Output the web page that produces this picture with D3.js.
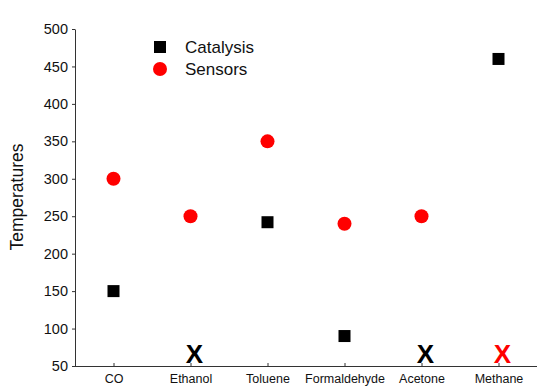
<!DOCTYPE html>
<html>
<head>
<meta charset="utf-8">
<script src="https://d3js.org/d3.v7.min.js"></script>
<style>
  body { margin: 0; background: #fff; }
  text { font-family: "Liberation Sans", Arial, sans-serif; }
</style>
</head>
<body>
<svg id="chart" width="550" height="391"></svg>
<script>
// chart data
const gases = ["CO", "Ethanol", "Toluene", "Formaldehyde", "Acetone", "Methane"];
const catalysis = [150, null, 242, 90, null, 460];
const sensors = [300, 250, 350, 240, 250, null];
const yTicks = [50, 100, 150, 200, 250, 300, 350, 400, 450, 500];

const svg = d3.select("#chart");
const plotLeft = 75, plotRight = 537, plotTop = 29, plotBottom = 366;

const x = d3.scalePoint().domain(gases).range([plotLeft, plotRight]).padding(0.5);
const y = d3.scaleLinear().domain([50, 500]).range([plotBottom, plotTop]);

// y axis
const yAxis = svg.append("g")
  .attr("transform", `translate(${plotLeft},0)`)
  .call(d3.axisLeft(y).tickValues(yTicks).tickSize(3).tickPadding(4).tickSizeOuter(0));
yAxis.selectAll("text").style("font-size", "14.5px").attr("fill", "#111");
yAxis.selectAll("line, path").attr("stroke", "#333");

// x axis, ticks point inward
const xAxis = svg.append("g")
  .attr("transform", `translate(0,${plotBottom})`)
  .call(d3.axisBottom(x).tickSizeInner(-3).tickSizeOuter(0).tickPadding(8));
xAxis.select(".domain").attr("d", `M${plotLeft},0.5H${plotRight}`);
xAxis.selectAll("text").style("font-size", "12.5px").attr("fill", "#111");
xAxis.selectAll("line, path").attr("stroke", "#333");

// y title
svg.append("text")
  .attr("transform", `translate(23,197) rotate(-90)`)
  .attr("text-anchor", "middle")
  .style("font-size", "17.5px")
  .attr("fill", "#111")
  .text("Temperatures");

// catalysis squares
const sq = 12;
svg.append("g").selectAll("rect")
  .data(gases.map((g, i) => ({ g, v: catalysis[i] })).filter(d => d.v != null))
  .enter().append("rect")
  .attr("x", d => x(d.g) - sq / 2)
  .attr("y", d => y(d.v) - sq / 2)
  .attr("width", sq).attr("height", sq)
  .attr("fill", "#000");

// sensor circles
svg.append("g").selectAll("circle")
  .data(gases.map((g, i) => ({ g, v: sensors[i] })).filter(d => d.v != null))
  .enter().append("circle")
  .attr("cx", d => x(d.g))
  .attr("cy", d => y(d.v))
  .attr("r", 7)
  .attr("fill", "#f00");

// missing values marked with an X
const missing = [];
gases.forEach((g, i) => {
  if (catalysis[i] == null) missing.push({ g, color: "#000" });
  else if (sensors[i] == null) missing.push({ g, color: "#f00" });
});
svg.append("g").selectAll("text")
  .data(missing)
  .enter().append("text")
  .attr("x", d => x(d.g) + 4)
  .attr("y", plotBottom - 3)
  .attr("text-anchor", "middle")
  .style("font-size", "26px")
  .style("font-weight", "bold")
  .attr("fill", d => d.color)
  .text("X");

// legend
const legend = svg.append("g").attr("transform", "translate(160,47)");
legend.append("rect").attr("x", -6).attr("y", -6).attr("width", 12).attr("height", 12).attr("fill", "#000");
legend.append("circle").attr("cx", 0).attr("cy", 22).attr("r", 7).attr("fill", "#f00");
legend.append("text").attr("x", 25).attr("y", 6).style("font-size", "17px").attr("fill", "#111").text("Catalysis");
legend.append("text").attr("x", 25).attr("y", 28).style("font-size", "17px").attr("fill", "#111").text("Sensors");
</script>
</body>
</html>
